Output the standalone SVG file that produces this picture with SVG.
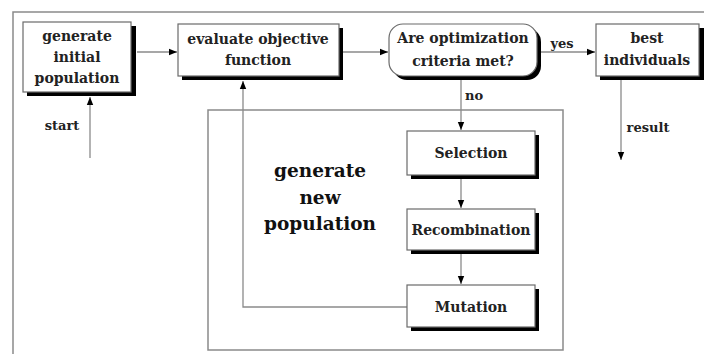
<svg xmlns="http://www.w3.org/2000/svg" width="704" height="354" viewBox="0 0 704 354">
<defs>
<style>
.frame{fill:none;stroke:#8a8a8a;stroke-width:1.5}
.box{fill:#fff;stroke:#6a6a6a;stroke-width:1.2}
.sh{fill:#000}
.ln{fill:none;stroke:#8a8a8a;stroke-width:1.3}
.t{font-family:"DejaVu Serif","Liberation Serif",serif;font-weight:bold;font-size:14px;fill:#222;text-anchor:middle}
.lbl{font-family:"DejaVu Serif","Liberation Serif",serif;font-weight:bold;font-size:13px;fill:#222;text-anchor:middle}
.big{font-family:"DejaVu Serif","Liberation Serif",serif;font-weight:bold;font-size:18.5px;fill:#111;text-anchor:middle}
</style>
<marker id="ah" viewBox="0 0 10 10" refX="10" refY="5" markerWidth="8" markerHeight="8" markerUnits="userSpaceOnUse" orient="auto">
<path d="M0,1 L10,5 L0,9 Z" fill="#000"/>
</marker>
</defs>
<rect width="704" height="354" fill="#fff"/>
<g id="outer-frame">
<path class="frame" d="M13,354 L13,12 L704,12"/>
</g>
<g id="inner-frame">
<rect class="frame" x="208" y="110" width="355" height="240"/>
<text class="big" x="320" y="177">generate</text>
<text class="big" x="320" y="204">new</text>
<text class="big" x="320" y="230">population</text>
</g>
<g id="connectors">
<line class="ln" x1="137" y1="52" x2="177" y2="52" marker-end="url(#ah)"/>
<line class="ln" x1="343" y1="52" x2="388" y2="52" marker-end="url(#ah)"/>
<line class="ln" x1="541" y1="52" x2="595" y2="52" marker-end="url(#ah)"/>
<line class="ln" x1="461" y1="80" x2="461" y2="130" marker-end="url(#ah)"/>
<line class="ln" x1="461" y1="179" x2="461" y2="208" marker-end="url(#ah)"/>
<line class="ln" x1="461" y1="254" x2="461" y2="284" marker-end="url(#ah)"/>
<polyline class="ln" points="407,307 243,307 243,81" marker-end="url(#ah)"/>
<line class="ln" x1="90" y1="158" x2="90" y2="97" marker-end="url(#ah)"/>
<line class="ln" x1="621" y1="80" x2="621" y2="160" marker-end="url(#ah)"/>
<text class="lbl" x="62" y="130">start</text>
<text class="lbl" x="562" y="48">yes</text>
<text class="lbl" x="474" y="100">no</text>
<text class="lbl" x="648" y="132">result</text>
</g>
<g id="generate-initial">
<rect class="sh" x="27" y="26" width="109" height="70"/>
<rect class="box" x="23" y="22" width="108" height="70"/>
<text class="t" x="77" y="41">generate</text>
<text class="t" x="77" y="62">initial</text>
<text class="t" x="77" y="83">population</text>
</g>
<g id="evaluate">
<rect class="sh" x="182" y="28" width="161" height="52"/>
<rect class="box" x="178" y="24" width="161" height="52"/>
<text class="t" x="258" y="44">evaluate objective</text>
<text class="t" x="258" y="65">function</text>
</g>
<g id="criteria">
<rect class="sh" x="393" y="28" width="148" height="52" rx="14"/>
<rect class="box" x="389" y="24" width="148" height="52" rx="14"/>
<text class="t" x="463" y="43">Are optimization</text>
<text class="t" x="463" y="66">criteria met?</text>
</g>
<g id="best">
<rect class="sh" x="600" y="28" width="104" height="52"/>
<rect class="box" x="596" y="24" width="103" height="52"/>
<text class="t" x="647" y="43">best</text>
<text class="t" x="647" y="65">individuals</text>
</g>
<g id="selection">
<rect class="sh" x="411" y="135" width="128" height="44"/>
<rect class="box" x="407" y="131" width="128" height="44"/>
<text class="t" x="471" y="158">Selection</text>
</g>
<g id="recombination">
<rect class="sh" x="411" y="213" width="128" height="41"/>
<rect class="box" x="407" y="209" width="128" height="41"/>
<text class="t" x="471" y="235">Recombination</text>
</g>
<g id="mutation">
<rect class="sh" x="411" y="289" width="128" height="42"/>
<rect class="box" x="407" y="285" width="128" height="42"/>
<text class="t" x="471" y="312">Mutation</text>
</g>
</svg>
